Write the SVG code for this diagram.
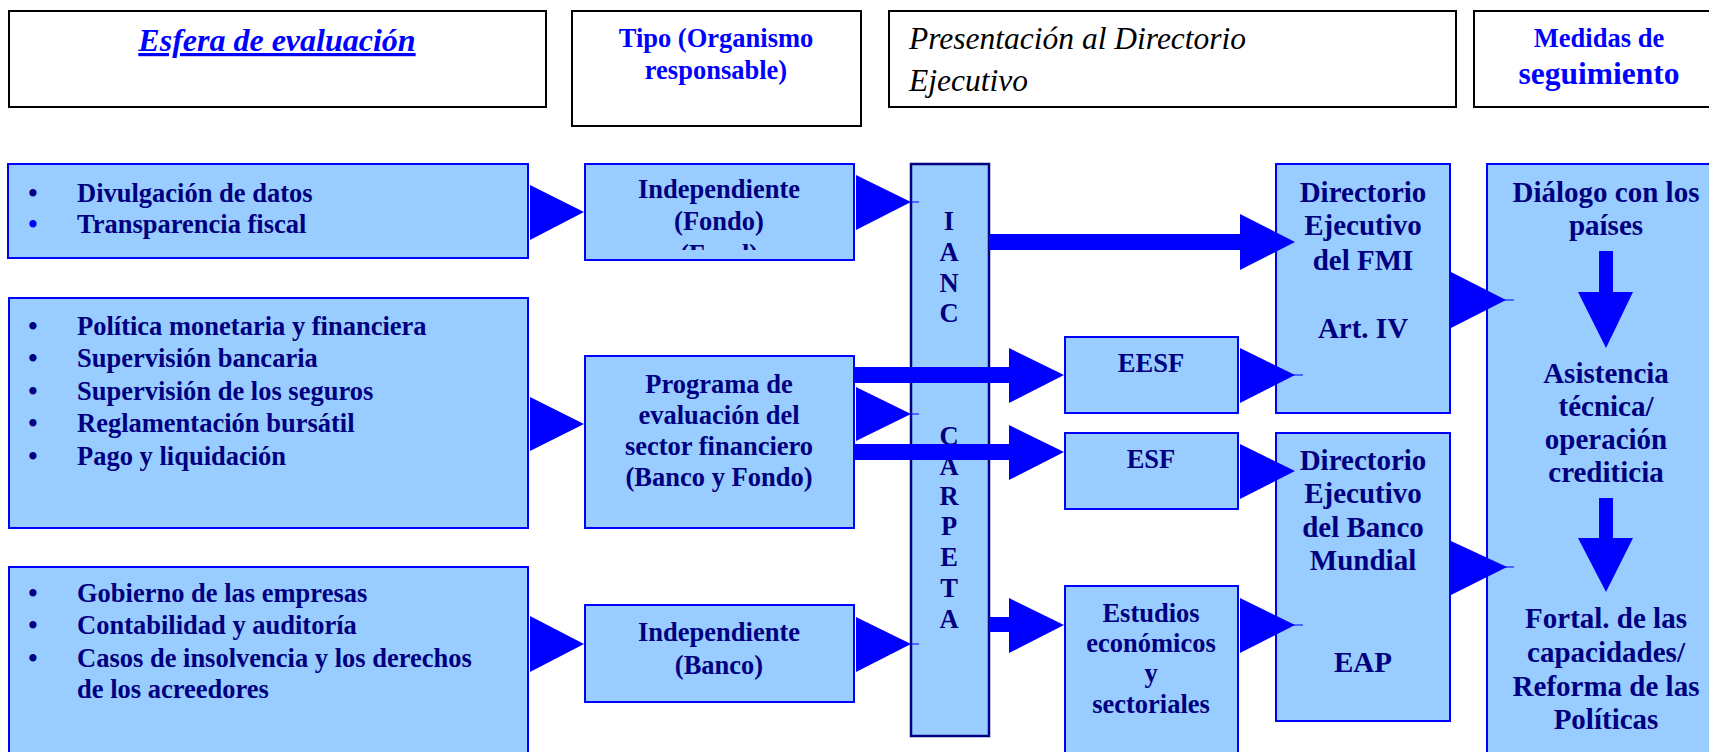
<svg xmlns="http://www.w3.org/2000/svg" width="1709" height="752" viewBox="0 0 1709 752">
<defs>
<style>
.hdr{fill:#ffffff;stroke:#000000;stroke-width:2}
.nd{fill:#99CCFF;stroke:#0000FF;stroke-width:2}
.col{fill:#99CCFF;stroke:#000080;stroke-width:2.5}
text{font-family:"Liberation Serif","Times New Roman",serif}
.t{font-weight:bold;fill:#000080;font-size:26.5px}
.c{text-anchor:middle}
.r{font-size:29px}
.bl{font-weight:bold;fill:#0000FF}
.ah{fill:#0000FF}
.ln{stroke:#0000FF;stroke-width:1.2}
</style>
<clipPath id="clipFondo"><rect x="585" y="164" width="269" height="86"/></clipPath>
</defs>
<rect width="1709" height="752" fill="#ffffff"/>

<g id="hdr-esfera">
<rect class="hdr" x="9" y="11" width="537" height="96"/>
<text class="bl c" x="277" y="51" font-size="32" font-style="italic" text-decoration="underline">Esfera de evaluación</text>
</g>
<g id="hdr-tipo">
<rect class="hdr" x="572" y="11" width="289" height="115"/>
<text class="bl c" x="716" y="47" font-size="26.5">Tipo (Organismo</text>
<text class="bl c" x="716" y="79" font-size="26.5">responsable)</text>
</g>
<g id="hdr-presentacion">
<rect class="hdr" x="889" y="11" width="567" height="96"/>
<text x="909" y="49" font-size="31.5" font-style="italic" fill="#000000">Presentación al Directorio</text>
<text x="909" y="91" font-size="31.5" font-style="italic" fill="#000000">Ejecutivo</text>
</g>
<g id="hdr-medidas">
<rect class="hdr" x="1474" y="11" width="250" height="96"/>
<text class="bl c" x="1599" y="47" font-size="26.5">Medidas de</text>
<text class="bl c" x="1599" y="84" font-size="31.5">seguimiento</text>
</g>

<g id="box-datos">
<rect class="nd" x="8" y="164" width="520" height="94"/>
<text class="t c" x="33" y="202">•</text>
<text class="t" x="77" y="202">Divulgación de datos</text>
<text class="t c" x="33" y="233" style="fill:#0000FF">•</text>
<text class="t" x="77" y="233">Transparencia fiscal</text>
</g>
<g id="box-financiero">
<rect class="nd" x="9" y="298" width="519" height="230"/>
<text class="t c" x="33" y="335">•</text>
<text class="t" x="77" y="335">Política monetaria y financiera</text>
<text class="t c" x="33" y="367">•</text>
<text class="t" x="77" y="367">Supervisión bancaria</text>
<text class="t c" x="33" y="400">•</text>
<text class="t" x="77" y="400">Supervisión de los seguros</text>
<text class="t c" x="33" y="432">•</text>
<text class="t" x="77" y="432">Reglamentación bursátil</text>
<text class="t c" x="33" y="465">•</text>
<text class="t" x="77" y="465">Pago y liquidación</text>
</g>
<g id="box-empresas">
<rect class="nd" x="9" y="567" width="519" height="200"/>
<text class="t c" x="33" y="602">•</text>
<text class="t" x="77" y="602">Gobierno de las empresas</text>
<text class="t c" x="33" y="634">•</text>
<text class="t" x="77" y="634">Contabilidad y auditoría</text>
<text class="t c" x="33" y="667">•</text>
<text class="t" x="77" y="667">Casos de insolvencia y los derechos</text>
<text class="t" x="77" y="698">de los acreedores</text>
</g>

<g id="box-fondo">
<rect class="nd" x="585" y="164" width="269" height="96"/>
<text class="t c" x="719" y="198">Independiente</text>
<text class="t c" x="719" y="230">(Fondo)</text>
<text class="t c" x="719" y="263" clip-path="url(#clipFondo)">(Fund)</text>
</g>
<g id="box-programa">
<rect class="nd" x="585" y="356" width="269" height="172"/>
<text class="t c" x="719" y="393">Programa de</text>
<text class="t c" x="719" y="424">evaluación del</text>
<text class="t c" x="719" y="455">sector financiero</text>
<text class="t c" x="719" y="486">(Banco y Fondo)</text>
</g>
<g id="box-banco">
<rect class="nd" x="585" y="605" width="269" height="97"/>
<text class="t c" x="719" y="641">Independiente</text>
<text class="t c" x="719" y="674">(Banco)</text>
</g>

<g id="col-ianc-carpeta">
<rect class="col" x="911" y="164" width="78" height="572"/>
<text class="t c" x="949" y="230">I</text>
<text class="t c" x="949" y="261">A</text>
<text class="t c" x="949" y="292">N</text>
<text class="t c" x="949" y="322">C</text>
<text class="t c" x="949" y="445">C</text>
<text class="t c" x="949" y="475">A</text>
<text class="t c" x="949" y="505">R</text>
<text class="t c" x="949" y="535">P</text>
<text class="t c" x="949" y="566">E</text>
<text class="t c" x="949" y="597">T</text>
<text class="t c" x="949" y="628">A</text>
</g>

<g id="box-eesf">
<rect class="nd" x="1065" y="337" width="173" height="76"/>
<text class="t c" x="1151" y="372">EESF</text>
</g>
<g id="box-esf">
<rect class="nd" x="1065" y="433" width="173" height="76"/>
<text class="t c" x="1151" y="468">ESF</text>
</g>
<g id="box-estudios">
<rect class="nd" x="1065" y="586" width="173" height="180"/>
<text class="t c" x="1151" y="622">Estudios</text>
<text class="t c" x="1151" y="652">económicos</text>
<text class="t c" x="1151" y="682">y</text>
<text class="t c" x="1151" y="713">sectoriales</text>
</g>

<g id="box-dir-fmi">
<rect class="nd" x="1276" y="164" width="174" height="249"/>
<text class="t r c" x="1363" y="202">Directorio</text>
<text class="t r c" x="1363" y="235">Ejecutivo</text>
<text class="t r c" x="1363" y="270">del FMI</text>
<text class="t r c" x="1363" y="338">Art. IV</text>
</g>
<g id="box-dir-bm">
<rect class="nd" x="1276" y="433" width="174" height="288"/>
<text class="t r c" x="1363" y="470">Directorio</text>
<text class="t r c" x="1363" y="503">Ejecutivo</text>
<text class="t r c" x="1363" y="537">del Banco</text>
<text class="t r c" x="1363" y="570">Mundial</text>
<text class="t r c" x="1363" y="672">EAP</text>
</g>

<g id="col-seguimiento">
<rect class="nd" x="1487" y="164" width="240" height="600"/>
<text class="t r c" x="1606" y="202">Diálogo con los</text>
<text class="t r c" x="1606" y="235">países</text>
<text class="t r c" x="1606" y="383">Asistencia</text>
<text class="t r c" x="1606" y="416">técnica/</text>
<text class="t r c" x="1606" y="449">operación</text>
<text class="t r c" x="1606" y="482">crediticia</text>
<text class="t r c" x="1606" y="628">Fortal. de las</text>
<text class="t r c" x="1606" y="662">capacidades/</text>
<text class="t r c" x="1606" y="696">Reforma de las</text>
<text class="t r c" x="1606" y="729">Políticas</text>
</g>

<g id="connectors">
<polygon class="ah" points="530,185 530,240 584,212"/>
<polygon class="ah" points="530,397 530,451 584,424"/>
<polygon class="ah" points="530,616 530,672 584,644"/>

<line class="ln" x1="856" y1="202" x2="919" y2="202"/>
<polygon class="ah" points="856,175 856,230 911,202"/>
<line class="ln" x1="856" y1="414" x2="919" y2="414"/>
<polygon class="ah" points="856,387 856,441 911,414"/>
<line class="ln" x1="856" y1="644" x2="919" y2="644"/>
<polygon class="ah" points="856,617 856,672 911,644"/>

<rect class="ah" x="989" y="234" width="252" height="16"/>
<polygon class="ah" points="1240,214 1240,270 1295,242"/>

<rect class="ah" x="854" y="367" width="156" height="16"/>
<polygon class="ah" points="1009,348 1009,403 1064,375"/>
<rect class="ah" x="854" y="444" width="156" height="16"/>
<polygon class="ah" points="1009,425 1009,480 1064,452"/>
<rect class="ah" x="989" y="617" width="21" height="15"/>
<polygon class="ah" points="1009,598 1009,653 1064,625"/>

<line class="ln" x1="1240" y1="375" x2="1303" y2="375"/>
<polygon class="ah" points="1240,348 1240,403 1295,375"/>
<polygon class="ah" points="1240,444 1240,499 1295,471"/>
<line class="ln" x1="1240" y1="625" x2="1303" y2="625"/>
<polygon class="ah" points="1240,598 1240,653 1295,625"/>

<line class="ln" x1="1451" y1="300" x2="1514" y2="300"/>
<polygon class="ah" points="1451,272 1451,328 1506,300"/>
<line class="ln" x1="1451" y1="567" x2="1514" y2="567"/>
<polygon class="ah" points="1451,541 1451,595 1507,567"/>

<rect class="ah" x="1599" y="251" width="14" height="42"/>
<polygon class="ah" points="1578,292 1633,292 1606,348"/>
<rect class="ah" x="1599" y="498" width="14" height="41"/>
<polygon class="ah" points="1578,538 1633,538 1606,592"/>
</g>
</svg>
